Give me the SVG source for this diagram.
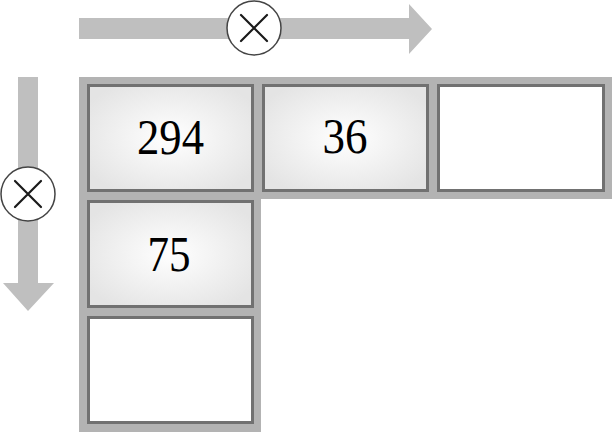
<svg xmlns="http://www.w3.org/2000/svg" width="612" height="432" viewBox="0 0 612 432">
<defs>
<radialGradient id="g" cx="50%" cy="50%" r="60%">
<stop offset="0" stop-color="#ffffff"/>
<stop offset="1" stop-color="#e4e4e4"/>
</radialGradient>
<style>
.frame{fill:#b3b3b3}
.arrow{fill:#bfbfbf}
.cell{stroke:#717171;stroke-width:3;fill:url(#g)}
.empty{stroke:#717171;stroke-width:3;fill:#ffffff}
.num{font-family:"Liberation Serif","DejaVu Serif",serif;font-size:50px;fill:#000;text-anchor:middle}
.circ{fill:#ffffff;stroke:#444444;stroke-width:1.5}
.x{stroke:#1a1a1a;stroke-width:2.2;stroke-linecap:round}
</style>
</defs>
<g id="connectors">
<path class="arrow" d="M79,18 H409 V4 L432,29 L409,54 V39 H79 Z"/>
<path class="arrow" d="M18,77 H38 V283 H54 L28,311 L3,283 H18 Z"/>
</g>
<g id="frame">
<rect class="frame" x="79" y="77" width="533" height="122"/>
<rect class="frame" x="79" y="77" width="182" height="355"/>
</g>
<g id="op-h">
<circle class="circ" cx="254" cy="28" r="27"/>
<path class="x" d="M241,15 L267,41 M267,15 L241,41"/>
</g>
<g id="op-v">
<circle class="circ" cx="28" cy="194" r="27"/>
<path class="x" d="M15,181 L41,207 M41,181 L15,207"/>
</g>
<g id="cell-294">
<rect class="cell" x="88.5" y="85.5" width="164" height="105"/>
<text class="num" x="170.5" y="154" textLength="67" lengthAdjust="spacingAndGlyphs">294</text>
</g>
<g id="cell-36">
<rect class="cell" x="263.5" y="85.5" width="164" height="105"/>
<text class="num" x="345" y="153" textLength="45" lengthAdjust="spacingAndGlyphs">36</text>
</g>
<g id="cell-empty-right">
<rect class="empty" x="438.5" y="85.5" width="165" height="105"/>
</g>
<g id="cell-75">
<rect class="cell" x="88.5" y="201.5" width="164" height="105"/>
<text class="num" x="169" y="271" textLength="43" lengthAdjust="spacingAndGlyphs">75</text>
</g>
<g id="cell-empty-bottom">
<rect class="empty" x="88.5" y="317.5" width="164" height="105"/>
</g>
</svg>
